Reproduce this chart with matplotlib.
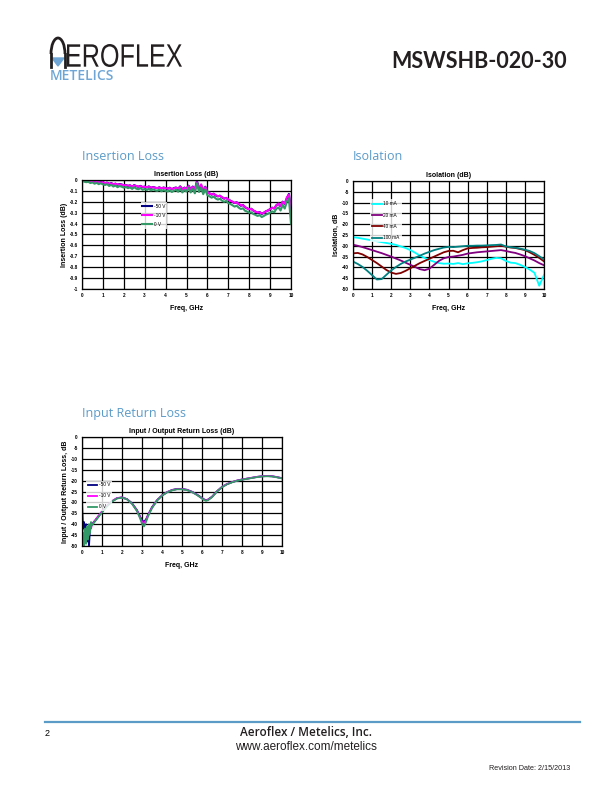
#!/usr/bin/env python
# MSWSHB-020-30 data sheet page 2: insertion loss, isolation, return loss

import numpy as np
import matplotlib.pyplot as plt
from matplotlib.patches import Polygon, Arc, PathPatch
from matplotlib.textpath import TextPath
from matplotlib.font_manager import FontProperties
from matplotlib.transforms import Affine2D

# ---- insertion loss (dB), 0..10 GHz every 0.1 GHz
il_freq = np.round(np.arange(0, 10.01, 0.1), 1)
il_m50 = [-0.005, -0.008, -0.012, -0.010, -0.018, -0.014, -0.020, -0.016, -0.024, -0.019, -0.022,
          -0.030, -0.024, -0.036, -0.028, -0.040, -0.033, -0.044, -0.037, -0.041, -0.050,
          -0.046, -0.054, -0.049, -0.060, -0.047, -0.057, -0.062, -0.054, -0.066, -0.060,
          -0.068, -0.059, -0.072, -0.064, -0.070, -0.076, -0.067, -0.078, -0.069, -0.075,
          -0.080, -0.071, -0.085, -0.074, -0.069, -0.082, -0.058, -0.086, -0.070, -0.079,
          -0.052, -0.086, -0.060, -0.092, -0.008, -0.081, -0.050, -0.096, -0.062, -0.110,
          -0.122, -0.134, -0.126, -0.142, -0.150, -0.144, -0.160, -0.171, -0.164, -0.180,
          -0.190, -0.201, -0.212, -0.204, -0.221, -0.236, -0.229, -0.250, -0.259, -0.270,
          -0.264, -0.281, -0.290, -0.301, -0.294, -0.312, -0.300, -0.288, -0.279, -0.268,
          -0.254, -0.262, -0.231, -0.218, -0.241, -0.199, -0.221, -0.170, -0.128, -0.300]
il_m10 = [-0.004, -0.010, -0.009, -0.014, -0.016, -0.012, -0.022, -0.018, -0.021, -0.023, -0.020,
          -0.028, -0.026, -0.034, -0.031, -0.038, -0.035, -0.042, -0.040, -0.044, -0.048,
          -0.048, -0.052, -0.051, -0.058, -0.050, -0.055, -0.060, -0.057, -0.063, -0.062,
          -0.066, -0.061, -0.070, -0.066, -0.072, -0.074, -0.069, -0.076, -0.071, -0.077,
          -0.078, -0.073, -0.083, -0.076, -0.072, -0.080, -0.062, -0.084, -0.072, -0.081,
          -0.056, -0.084, -0.064, -0.090, -0.020, -0.083, -0.040, -0.094, -0.066, -0.108,
          -0.124, -0.132, -0.128, -0.140, -0.148, -0.146, -0.158, -0.168, -0.166, -0.178,
          -0.192, -0.198, -0.210, -0.206, -0.218, -0.232, -0.231, -0.248, -0.262, -0.268,
          -0.266, -0.279, -0.292, -0.298, -0.296, -0.309, -0.302, -0.286, -0.281, -0.266,
          -0.256, -0.258, -0.234, -0.216, -0.238, -0.202, -0.218, -0.160, -0.135, -0.290]
il_0 = [-0.008, -0.015, -0.020, -0.016, -0.028, -0.022, -0.034, -0.026, -0.038, -0.030, -0.040,
        -0.046, -0.038, -0.055, -0.044, -0.060, -0.050, -0.066, -0.055, -0.062, -0.070,
        -0.064, -0.075, -0.068, -0.082, -0.066, -0.080, -0.085, -0.074, -0.090, -0.082,
        -0.092, -0.080, -0.096, -0.086, -0.094, -0.100, -0.088, -0.104, -0.092, -0.100,
        -0.106, -0.094, -0.110, -0.098, -0.090, -0.108, -0.080, -0.114, -0.092, -0.106,
        -0.072, -0.114, -0.080, -0.122, -0.030, -0.110, -0.070, -0.130, -0.085, -0.140,
        -0.150, -0.162, -0.152, -0.170, -0.180, -0.172, -0.190, -0.200, -0.192, -0.212,
        -0.220, -0.232, -0.244, -0.236, -0.254, -0.266, -0.260, -0.282, -0.290, -0.300,
        -0.296, -0.312, -0.320, -0.330, -0.322, -0.340, -0.330, -0.318, -0.310, -0.300,
        -0.288, -0.296, -0.264, -0.252, -0.280, -0.230, -0.262, -0.200, -0.170, -0.400]

# ---- isolation (dB), 0..10 GHz every 0.25 GHz
iso_freq = np.arange(0, 10.01, 0.25)
iso_10 = [-26.0, -26.3, -26.7, -27.1, -27.5, -27.9, -28.3, -28.7, -29.1, -29.6, -30.3,
          -31.0, -32.0, -33.2, -34.5, -35.6, -36.6, -37.4, -38.0, -38.3, -38.2, -38.4,
          -38.0, -38.5, -38.1, -37.9, -37.6, -37.2, -36.6, -36.0, -35.6, -35.8, -37.0,
          -37.8, -38.0, -38.8, -39.8, -41.0, -42.5, -48.5, -43.5]
iso_20 = [-29.5, -30.0, -30.6, -31.3, -32.0, -32.7, -33.4, -34.2, -35.0, -35.9, -36.8,
          -37.8, -38.8, -39.8, -40.8, -41.3, -40.6, -38.8, -37.0, -35.8, -35.2, -35.0,
          -34.6, -34.2, -33.6, -33.3, -33.0, -32.8, -32.6, -32.4, -32.2, -32.0, -32.4,
          -32.9, -33.3, -34.0, -34.8, -35.8, -36.8, -38.0, -39.0]
iso_40 = [-33.5, -33.3, -34.0, -35.2, -36.6, -38.0, -39.6, -41.2, -42.4, -43.0, -42.6,
          -41.6, -40.4, -39.2, -38.0, -37.0, -36.0, -35.0, -34.0, -33.0, -32.4, -32.3,
          -33.0, -32.0, -31.2, -31.0, -30.9, -30.7, -30.6, -30.4, -30.2, -30.0, -30.4,
          -30.8, -31.0, -31.5, -32.0, -33.0, -34.2, -35.6, -37.2]
iso_100 = [-37.3, -38.4, -39.8, -41.6, -43.6, -45.6, -45.4, -43.4, -41.4, -39.8, -38.4,
           -37.3, -36.4, -35.5, -34.6, -33.6, -32.8, -32.0, -31.4, -30.8, -30.5, -30.6,
           -30.4, -30.2, -30.0, -30.0, -29.9, -29.9, -29.8, -29.7, -29.6, -29.4, -30.3,
           -30.6, -30.9, -31.3, -31.8, -32.4, -33.4, -34.8, -36.3]

# ---- input / output return loss (dB)
rl_freq = [0, 0.05, 0.1, 0.15, 0.2, 0.25, 0.3, 0.35, 0.4, 0.45, 0.5, 0.75, 1.0, 1.25, 1.5,
           1.75, 2.0, 2.25, 2.5, 2.75, 2.9, 3.0, 3.1, 3.2, 3.3, 3.5, 3.75, 4.0, 4.25, 4.5,
           4.75, 5.0, 5.25, 5.5, 5.75, 6.0, 6.1, 6.2, 6.3, 6.5, 6.75, 7.0, 7.25, 7.5, 7.75,
           8.0, 8.25, 8.5, 8.75, 9.0, 9.25, 9.5, 9.75, 10.0]
rl_m50 = [-30, -42, -39, -45, -40, -48, -41, -50, -42, -41, -40, -37.3, -34.3, -31.6, -29.5,
          -28.1, -27.7, -28.5, -30.4, -33.6, -36.4, -38.2, -38.9, -37.8, -35.8, -32.2, -29.0,
          -26.8, -25.3, -24.3, -23.8, -23.8, -24.2, -25.1, -26.4, -28.0, -28.6, -29.0, -28.7,
          -27.4, -24.9, -22.9, -21.6, -20.7, -20.0, -19.5, -19.1, -18.7, -18.3, -18.0, -17.9,
          -18.0, -18.4, -18.9]
rl_m10 = [-50, -46, -44, -48, -42, -46, -42, -45, -41, -42, -40.2, -37.0, -34.1, -31.5, -29.4,
          -28.0, -27.7, -28.5, -30.5, -33.8, -36.8, -38.8, -39.6, -38.2, -36.0, -32.4, -29.1,
          -26.8, -25.3, -24.4, -23.9, -23.9, -24.3, -25.2, -26.5, -28.1, -28.7, -29.1, -28.8,
          -27.5, -24.9, -22.9, -21.6, -20.7, -20.0, -19.5, -19.1, -18.7, -18.3, -18.0, -17.9,
          -18.0, -18.4, -18.9]
rl_0 = [-50, -44, -50, -42, -49, -41, -47, -40, -44, -39, -40.5, -37.5, -34.5, -31.8, -29.6,
        -28.2, -27.8, -28.6, -30.6, -34.0, -37.2, -39.8, -41.0, -39.0, -36.4, -32.6, -29.2,
        -26.9, -25.4, -24.5, -24.0, -24.0, -24.4, -25.3, -26.6, -28.2, -28.9, -29.3, -29.0,
        -27.6, -25.0, -23.0, -21.7, -20.8, -20.1, -19.6, -19.2, -18.8, -18.4, -18.1, -18.0,
        -18.1, -18.5, -19.0]

volt_labels = ['-50 V', '-10 V', '0 V']
volt_colors = ['#000080', '#ff00ff', '#339966']
curr_labels = ['10 mA', '20 mA', '40 mA', '100 mA']
curr_colors = ['#00ffff', '#800080', '#800000', '#008080']

BLUE = '#5b9bc8'
CHART_FONT = ['Liberation Sans', 'DejaVu Sans']
HEAD_FONT = ['Open Sans', 'DejaVu Sans']

W, H = 612, 792


def px_axes(fig, left, top, right, bottom):
  return fig.add_axes([left / W, 1 - bottom / H, (right - left) / W, (bottom - top) / H])


def style_chart(ax, ylim, ystep, yfmt, title, ylabel):
  ax.set_xlim(0, 10)
  ax.set_ylim(*ylim)
  ax.set_xticks(range(0, 11))
  yt = np.arange(ylim[0], ylim[1] + ystep / 2, ystep)
  ax.set_yticks(yt)
  ax.set_yticklabels([yfmt(v) for v in yt])
  ax.grid(True, color='black', linewidth=0.9)
  ax.set_axisbelow(True)
  for sp in ax.spines.values():
    sp.set_linewidth(0.9)
  ax.tick_params(length=0, pad=3, labelsize=3.4)
  for lab in ax.get_xticklabels() + ax.get_yticklabels():
    lab.set_family(CHART_FONT)
    lab.set_fontweight('bold')
  ax.set_title(title, fontsize=5, fontweight='bold', family=CHART_FONT, pad=3)
  ax.set_xlabel('Freq, GHz', fontsize=5, fontweight='bold', family=CHART_FONT, labelpad=5)
  ax.set_ylabel(ylabel, fontsize=5, fontweight='bold', family=CHART_FONT, labelpad=1)


def add_legend(ax, anchor, spacing):
  leg = ax.legend(loc='upper left', bbox_to_anchor=anchor, frameon=True, fancybox=False,
                  fontsize=3.4, handlelength=2.0, handletextpad=0.4, labelspacing=spacing,
                  borderpad=0.4, borderaxespad=0)
  leg.get_frame().set_edgecolor('white')
  leg.get_frame().set_linewidth(0)
  for t in leg.get_texts():
    t.set_family(CHART_FONT)
  return leg


fig = plt.figure(figsize=(W / 100, H / 100), dpi=100)

# ---- header: logo drawn as condensed text path + arch "A"
logo = TextPath((0, 0), 'EROFLEX', size=30, prop=FontProperties(family=['Liberation Sans']))
ext = logo.get_extents()
sx = (182 - 67) / ext.width
sy = 23 / ext.height
logo_tr = Affine2D().translate(-ext.x0, -ext.y0).scale(sx, sy).translate(67, H - 67)
fig.patches.append(PathPatch(logo_tr.transform_path(logo), transform=None,
                             facecolor='#231f20', edgecolor='none'))
fig.patches.append(Arc((58 / W, 1 - 54 / H), 14 / W, 32 / H, theta1=0, theta2=180,
                       transform=fig.transFigure, lw=2.0, color='#231f20'))
fig.lines.append(plt.Line2D([51 / W, 51 / W], [1 - 54 / H, 1 - 67 / H], transform=fig.transFigure,
                            lw=2.0, color='#231f20'))
fig.lines.append(plt.Line2D([65 / W, 65 / W], [1 - 54 / H, 1 - 67 / H], transform=fig.transFigure,
                            lw=2.0, color='#231f20'))
fig.patches.append(Polygon([[52 / W, 1 - 58 / H], [64 / W, 1 - 58 / H], [58 / W, 1 - 66 / H]],
                           closed=True, transform=fig.transFigure, color='#6fa6d6'))
fig.text(50 / W, 1 - 76 / H, 'METELICS', fontsize=10, family=HEAD_FONT, fontweight='semibold',
         color='#6fa6d6', va='center', ha='left')
fig.text(567 / W, 1 - 61 / H, 'MSWSHB-020-30', fontsize=15.5, family=['Lato', 'DejaVu Sans'],
         fontweight='bold', color='#231f20', va='center', ha='right')

# ---- section headings
fig.text(82 / W, 1 - 157 / H, 'Insertion Loss', fontsize=9, family=HEAD_FONT, color=BLUE, va='center')
fig.text(353 / W, 1 - 157 / H, 'Isolation', fontsize=9, family=HEAD_FONT, color=BLUE, va='center')
fig.text(82 / W, 1 - 414 / H, 'Input Return Loss', fontsize=9, family=HEAD_FONT, color=BLUE, va='center')

# ---- insertion loss
ax1 = px_axes(fig, 82, 180, 291, 289)
for y, lab, c in zip([il_m50, il_m10, il_0], volt_labels, volt_colors):
  ax1.plot(il_freq, y, color=c, lw=1.5, label=lab)
style_chart(ax1, (-1, 0), 0.1, lambda v: '0' if abs(v) < 1e-9 else ('-1' if v <= -0.999 else '%.1f' % v),
            'Insertion Loss (dB)', 'Insertion Loss (dB)')
add_legend(ax1, (0.28, 0.8), 0.85)

# ---- isolation
ax2 = px_axes(fig, 353, 181, 544, 289)
for y, lab, c in zip([iso_10, iso_20, iso_40, iso_100], curr_labels, curr_colors):
  ax2.plot(iso_freq, y, color=c, lw=1.3, label=lab)
style_chart(ax2, (-50, 0), 5, lambda v: '%d' % v, 'Isolation (dB)', 'Isolation, dB')
add_legend(ax2, (0.09, 0.83), 1.35)

# ---- return loss
ax3 = px_axes(fig, 82, 437, 282, 546)
for y, lab, c in zip([rl_m50, rl_m10, rl_0], volt_labels, volt_colors):
  ax3.plot(rl_freq, y, color=c, lw=1.3, label=lab)
style_chart(ax3, (-50, 0), 5, lambda v: '%d' % v, 'Input / Output Return Loss (dB)',
            'Input / Output Return Loss, dB')
add_legend(ax3, (0.02, 0.6), 1.25)

# ---- footer
fig.lines.append(plt.Line2D([45 / W, 580 / W], [1 - 722 / H, 1 - 722 / H], transform=fig.transFigure,
                            lw=1.6, color=BLUE))
fig.text(45 / W, 1 - 733 / H, '2', fontsize=6.5, family=CHART_FONT, va='center')
fig.text(306 / W, 1 - 733 / H, 'Aeroflex / Metelics, Inc.', fontsize=8.5, family=HEAD_FONT,
         fontweight='semibold', ha='center', va='center', color='#231f20')
fig.text(306 / W, 1 - 747 / H, 'www.aeroflex.com/metelics', fontsize=8.5, family=CHART_FONT,
         ha='center', va='center', color='#231f20')
fig.text(570 / W, 1 - 768 / H, 'Revision Date: 2/15/2013', fontsize=5.2, family=CHART_FONT,
         ha='right', va='center', color='#231f20')

fig.savefig('out.png', dpi=100)
